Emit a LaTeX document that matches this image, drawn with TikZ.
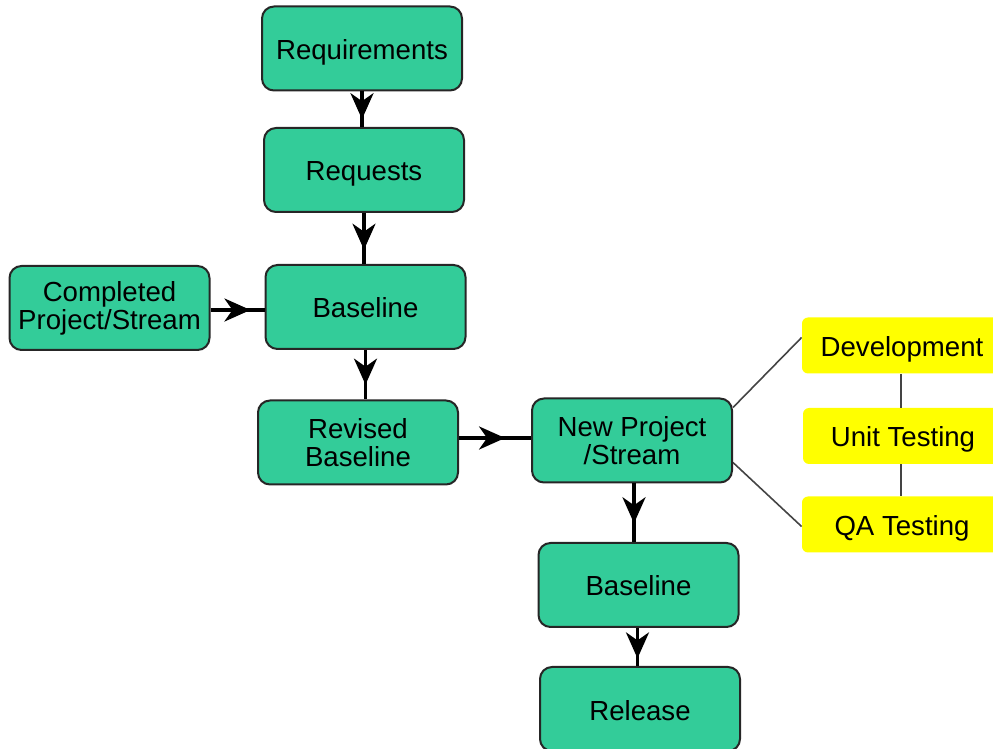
\documentclass[tikz,border=0pt]{standalone}
\usepackage{fontspec}
\setmainfont{Liberation Sans}
\usepackage{xcolor}
\usepackage{tikz}
\usetikzlibrary{
  arrows.meta,
  positioning,
  decorations.markings
}
\definecolor{stepgreen}{HTML}{33CC99}
\definecolor{taskyellow}{HTML}{FFFF00}
\definecolor{edgegray}{HTML}{444444}

\begin{document}
\begin{tikzpicture}[
  x=0.5pt, y=-0.5pt,
  stage/.style={draw=black!85, line width=1pt, fill=stepgreen, rounded corners=6pt,
    minimum width=100pt, minimum height=42pt, align=center,
    font=\fontsize{13.8}{14}\selectfont},
  oneline/.style={text height=14pt, text depth=3pt},
  task/.style={fill=taskyellow, rounded corners=3pt, minimum width=100pt,
    minimum height=28pt, oneline, font=\fontsize{13.8}{14}\selectfont},
  flow/.style={line width=1.8pt, decoration={markings, mark=at position #1 with
    {\arrow{Stealth[length=13pt, width=11.5pt, inset=4pt]}}}, postaction={decorate}},
  flow/.default=0.72,
  link/.style={draw=edgegray, line width=0.8pt},
]
  \useasboundingbox (0,0) rectangle (993,749);

  % Main chain
  \node[stage, oneline] (req)      at (362,48.5)  {Requirements};
  \node[stage, oneline] (requests) at (364,170)   {Requests};
  \node[stage, oneline] (base)     at (365.5,307) {Baseline};
  \node[stage] (done)     at (109.5,308) {Completed\\Project/Stream};
  \node[stage] (revised)  at (358,442.5) {Revised\\Baseline};
  \node[stage] (newproj)  at (632,440.5) {New Project\\/Stream};
  \node[stage, oneline] (base2)    at (638.5,585) {Baseline};
  \node[stage, oneline] (release)  at (640,709)   {Release};

  % Work items
  \node[task] (dev)  at (902,345.5) {Development};
  \node[task] (unit) at (903,436)   {Unit Testing};
  \node[task] (qa)   at (902,524.5) {QA Testing};

  % Arrows
  \draw[flow=0.78] (req.south) -- (req.south |- requests.north);
  \draw[flow] (requests.south) -- (requests.south |- base.north);
  \draw[flow=0.7] (base.south) -- (base.south |- revised.north);
  \draw[flow=0.74] (done.east |- 0,310) -- (base.west |- 0,310);
  \draw[flow=0.64] (revised.east |- 0,438) -- (newproj.west |- 0,438);
  \draw[flow=0.68] ([xshift=1pt]newproj.south) -- ([xshift=1pt]newproj.south |- base2.north);
  \draw[flow=0.8] ([xshift=-0.5pt]base2.south) -- ([xshift=-0.5pt]base2.south |- release.north);

  % Links to work items
  \draw[link] ([yshift=-5pt]newproj.north east) -- ([yshift=4pt]dev.west);
  \draw[link] ([yshift=10.5pt]newproj.south east) -- ([yshift=-1pt]qa.west);
  \draw[link] ([xshift=-0.5pt]dev.south) -- ([xshift=-0.5pt]dev.south |- unit.north);
  \draw[link] ([xshift=-0.5pt]dev.south |- unit.south) -- ([xshift=-0.5pt]dev.south |- qa.north);
\end{tikzpicture}
\end{document}
